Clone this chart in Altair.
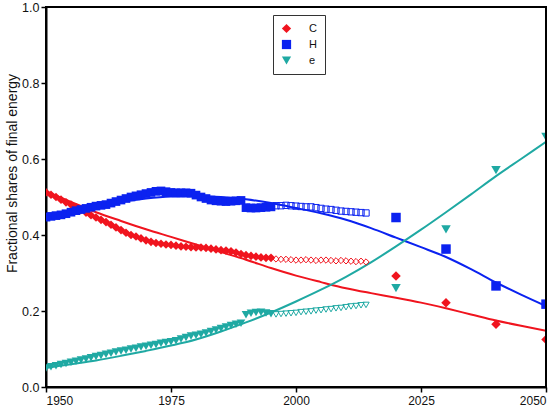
import altair as alt
import pandas as pd

# ---------------- data ----------------
series = ["C", "H", "e"]
colors = ["#f0141e", "#0b22f0", "#1fa9a3"]
shapes = ["diamond", "square", "triangle-down"]

hist_years = list(range(1950, 1996))
hist_C = [0.512, 0.506, 0.500, 0.493, 0.486, 0.480, 0.473, 0.466, 0.459, 0.452,
          0.446, 0.440, 0.434, 0.427, 0.420, 0.413, 0.406, 0.400, 0.396, 0.391,
          0.386, 0.382, 0.379, 0.377, 0.375, 0.374, 0.372, 0.370, 0.369, 0.368,
          0.367, 0.367, 0.366, 0.364, 0.362, 0.360, 0.359, 0.357, 0.354, 0.350,
          0.347, 0.345, 0.343, 0.341, 0.340, 0.340]
hist_H = [0.447, 0.449, 0.451, 0.453, 0.456, 0.460, 0.464, 0.467, 0.470, 0.473,
          0.476, 0.478, 0.480, 0.484, 0.488, 0.492, 0.496, 0.500, 0.503, 0.506,
          0.509, 0.512, 0.515, 0.516, 0.514, 0.512, 0.511, 0.511, 0.511, 0.510,
          0.505, 0.500, 0.496, 0.492, 0.490, 0.489, 0.488, 0.489, 0.490, 0.491,
          0.472, 0.471, 0.471, 0.472, 0.473, 0.474]
hist_e = [0.050, 0.053, 0.056, 0.059, 0.062, 0.065, 0.068, 0.071, 0.074, 0.077,
          0.080, 0.083, 0.086, 0.089, 0.092, 0.095, 0.097, 0.100, 0.102, 0.105,
          0.107, 0.110, 0.112, 0.115, 0.117, 0.119, 0.122, 0.126, 0.130, 0.134,
          0.136, 0.139, 0.142, 0.146, 0.150, 0.154, 0.158, 0.162, 0.165, 0.168,
          0.190, 0.194, 0.196, 0.197, 0.195, 0.193]

open_years = list(range(1996, 2015))
open_C = [0.337, 0.336, 0.336, 0.335, 0.334, 0.334, 0.335, 0.334, 0.333, 0.334,
          0.334, 0.333, 0.332, 0.333, 0.332, 0.331, 0.330, 0.331, 0.329]
open_H = [0.477, 0.477, 0.478, 0.477, 0.476, 0.475, 0.474, 0.474, 0.472, 0.470,
          0.468, 0.467, 0.465, 0.463, 0.462, 0.461, 0.460, 0.459, 0.458]
open_e = [0.191, 0.192, 0.193, 0.194, 0.195, 0.197, 0.198, 0.199, 0.201, 0.202,
          0.204, 0.205, 0.207, 0.208, 0.210, 0.212, 0.213, 0.215, 0.216]

proj_years = [2020, 2030, 2040, 2050]
proj_C = [0.292, 0.222, 0.165, 0.125]
proj_H = [0.446, 0.363, 0.266, 0.218]
proj_e = [0.260, 0.415, 0.571, 0.658]

fit_years = list(range(1950, 2051, 5))
fit_C = [0.515, 0.487, 0.460, 0.437, 0.415, 0.395, 0.375, 0.355, 0.335, 0.313,
         0.293, 0.276, 0.260, 0.247, 0.235, 0.222, 0.207, 0.191, 0.175, 0.161, 0.148]
fit_H = [0.448, 0.462, 0.475, 0.487, 0.496, 0.501, 0.502, 0.500, 0.494, 0.484,
         0.471, 0.457, 0.440, 0.418, 0.393, 0.368, 0.342, 0.310, 0.275, 0.243, 0.213]
fit_e = [0.050, 0.060, 0.070, 0.082, 0.095, 0.109, 0.125, 0.146, 0.170, 0.196,
         0.225, 0.256, 0.290, 0.328, 0.370, 0.414, 0.460, 0.507, 0.555, 0.600, 0.645]

x_ticks = [1950, 1975, 2000, 2025, 2050]
y_ticks = [0.0, 0.2, 0.4, 0.6, 0.8, 1.0]
y_title = "Fractional shares of final energy"


def long(years, lists):
    rows = []
    for s, vals in zip(series, lists):
        for yr, v in zip(years, vals):
            rows.append({"year": yr, "value": v, "series": s})
    return pd.DataFrame(rows)


df_hist = long(hist_years, [hist_C, hist_H, hist_e])
df_open = long(open_years, [open_C, open_H, open_e])
df_proj = long(proj_years, [proj_C, proj_H, proj_e])
df_fit = long(fit_years, [fit_C, fit_H, fit_e])

FONT = "Liberation Sans"
W, H = 500, 380

x_scale = alt.Scale(domain=[1950, 2050], nice=False, zero=False)
y_scale = alt.Scale(domain=[0, 1], nice=False)

# last tick label padded with non-breaking spaces so it sits left of its tick
x_enc = alt.X(
    "year:Q", scale=x_scale,
    axis=alt.Axis(
        values=x_ticks, format="d", title=None, grid=False,
        domainColor="black", domainWidth=2, tickColor="black", tickWidth=1.5,
        tickSize=5, labelPadding=3, labelFontSize=12, labelFont=FONT,
        labelColor="#111",
        labelExpr="datum.value == 2050 ? datum.label + '\u00a0\u00a0\u00a0\u00a0\u00a0' : datum.label",
    ),
)
y_enc = alt.Y(
    "value:Q", scale=y_scale,
    axis=alt.Axis(
        values=y_ticks, format=".1f", title=y_title, grid=False,
        domainColor="black", domainWidth=2, tickColor="black", tickWidth=1.5,
        tickSize=5, labelPadding=2, labelFontSize=12.5, labelFont=FONT,
        labelColor="#111",
        titleFont=FONT, titleFontSize=14, titleFontWeight="normal",
        titleColor="#111", titleAngle=270, titleX=-34, titleY=166,
        titleAlign="center", titleBaseline="middle",
    ),
)

color_scale = alt.Scale(domain=series, range=colors)
shape_scale = alt.Scale(domain=series, range=shapes)

legend = alt.Legend(
    orient="none", legendX=227, legendY=8, title=None,
    strokeColor="#333", padding=8,
    symbolSize=85, labelFontSize=11, labelFont=FONT, labelOffset=17,
    rowPadding=4, symbolStrokeWidth=0, labelColor="#111",
    symbolType="circle",
)

point_color = alt.Color("series:N", scale=color_scale, legend=legend)
point_shape = alt.Shape("series:N", scale=shape_scale, legend=legend)

proj = alt.Chart(df_proj).mark_point(filled=True, opacity=1, size=90, clip=True).encode(
    x=x_enc, y=y_enc, color=point_color, shape=point_shape,
)

lines = alt.Chart(df_fit).mark_line(strokeWidth=2, interpolate="monotone", clip=True).encode(
    x=x_enc, y=y_enc,
    color=alt.Color("series:N", scale=color_scale, legend=legend),
    detail="series:N",
)

filled = alt.Chart(df_hist).mark_point(filled=True, opacity=1, size=75, clip=True).encode(
    x=x_enc, y=y_enc, color=point_color, shape=point_shape,
)

opened = alt.Chart(df_open).mark_point(filled=False, opacity=1, size=40, strokeWidth=1, clip=True).encode(
    x=x_enc, y=y_enc, color=point_color, shape=point_shape,
)

frame_df = pd.DataFrame({"k": [0]})
top_border = alt.Chart(frame_df).mark_rule(color="black", strokeWidth=2).encode(
    x=alt.value(0), x2=alt.value(W), y=alt.value(0)
)
right_border = alt.Chart(frame_df).mark_rule(color="black", strokeWidth=2).encode(
    x=alt.value(W), y=alt.value(0), y2=alt.value(H)
)

chart = alt.layer(proj, lines, filled, opened, top_border, right_border).properties(
    width=W, height=H,
    autosize=alt.AutoSizeParams(type="none"),
    padding={"left": 46, "top": 7, "right": 5, "bottom": 33},
).configure_view(
    stroke="black", strokeWidth=2
)

chart.save("out.html", embed_options={"renderer": "svg", "actions": False})
